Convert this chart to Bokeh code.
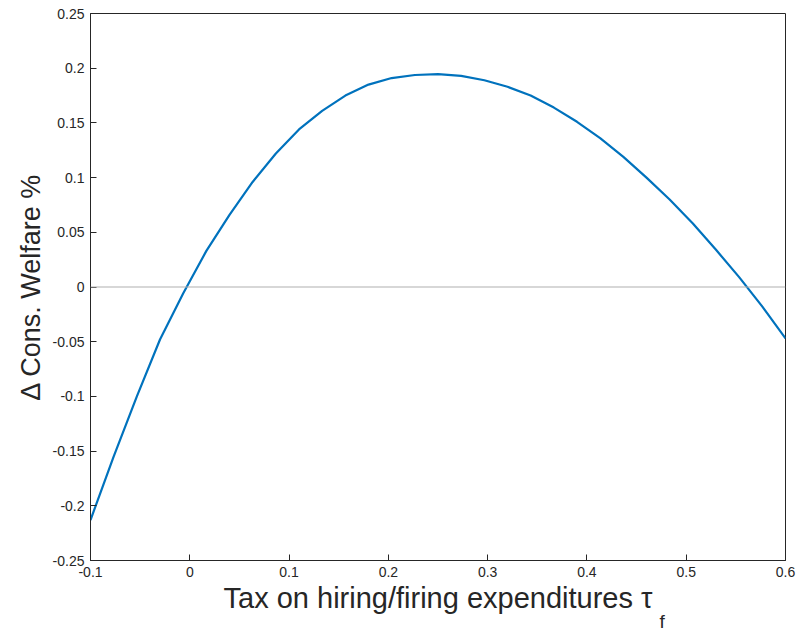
from bokeh.plotting import figure
from bokeh.models import FixedTicker, Span, Title
from bokeh.embed import file_html
from bokeh.resources import INLINE

x = [-0.1, -0.0767, -0.0533, -0.03, -0.0067, 0.0167, 0.04, 0.0633, 0.0867, 0.11, 0.1333, 0.1567,
     0.18, 0.2033, 0.2267, 0.25, 0.2733, 0.2967, 0.32, 0.3433, 0.3667, 0.39, 0.4133, 0.4367,
     0.46, 0.4833, 0.5067, 0.53, 0.5533, 0.5767, 0.6]
welfare = [-0.213, -0.155, -0.100, -0.048, -0.006, 0.033, 0.066, 0.096, 0.122, 0.144, 0.161, 0.175,
           0.185, 0.191, 0.1938, 0.1945, 0.193, 0.189, 0.183, 0.175, 0.164, 0.151, 0.136, 0.119,
           0.100, 0.080, 0.058, 0.034, 0.009, -0.018, -0.047]
xticks = [-0.1, 0, 0.1, 0.2, 0.3, 0.4, 0.5, 0.6]
xlabels = ["-0.1", "0", "0.1", "0.2", "0.3", "0.4", "0.5", "0.6"]
yticks = [-0.25, -0.2, -0.15, -0.1, -0.05, 0, 0.05, 0.1, 0.15, 0.2, 0.25]
ylabels = ["-0.25", "-0.2", "-0.15", "-0.1", "-0.05", "0", "0.05", "0.1", "0.15", "0.2", "0.25"]

p = figure(width=799, height=632, x_range=(-0.1, 0.6), y_range=(-0.25, 0.25),
           output_backend="svg", toolbar_location=None,
           min_border_left=90, min_border_right=14, min_border_top=13, min_border_bottom=72)
p.grid.visible = False
p.outline_line_color = "#262626"
p.outline_line_width = 1
p.background_fill_color = "white"

p.add_layout(Span(location=0, dimension="width", line_color="#b0b0b0", line_width=1.2))
p.line(x, welfare, line_color="#0072BD", line_width=2.2)

for ax, ticks, labels in ((p.xaxis[0], xticks, xlabels), (p.yaxis[0], yticks, ylabels)):
    ax.ticker = FixedTicker(ticks=ticks)
    ax.major_label_overrides = {t: l for t, l in zip(ticks, labels)}
    ax.major_tick_in = 6
    ax.major_tick_out = 0
    ax.minor_tick_in = 0
    ax.minor_tick_out = 0
    ax.major_label_standoff = 6
    ax.axis_line_color = "#262626"
    ax.major_tick_line_color = "#262626"
    ax.major_label_text_font = "Helvetica"
    ax.major_label_text_font_size = "14px"
    ax.major_label_text_color = "#262626"
    ax.axis_label_text_font = "Helvetica"
    ax.axis_label_text_font_style = "normal"
    ax.axis_label_text_color = "#262626"
    ax.axis_label_standoff = 4

p.xaxis.axis_label_standoff = 2
p.xaxis.axis_label_text_font_size = "29px"
p.yaxis.axis_label_text_font_size = "27px"
p.xaxis.axis_label = "Tax on hiring/firing expenditures τ"
p.yaxis.axis_label = "Δ Cons. Welfare %"
p.add_layout(Title(text="f", align="left", offset=569, text_font_size="19px",
                   text_color="#262626", text_font="Helvetica", text_font_style="normal",
                   standoff=-15), "below")

open("out.html", "w").write(file_html(p, INLINE))
